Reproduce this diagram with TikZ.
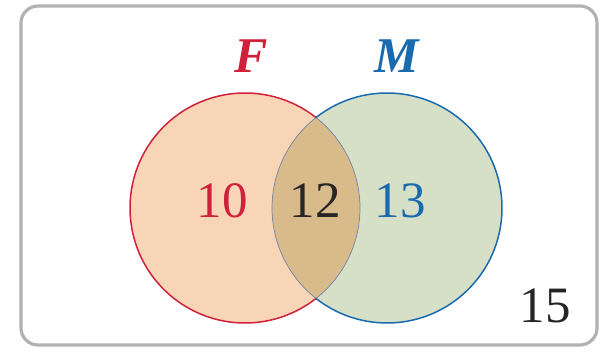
\documentclass[tikz,border=0pt]{standalone}
\usepackage{fontspec}
\setmainfont{Liberation Serif}
\definecolor{fpeach}{HTML}{F8D5B6}
\definecolor{mgreen}{HTML}{D5E0C6}
\definecolor{fmboth}{HTML}{D8BA8B}
\definecolor{fred}{HTML}{D0213B}
\definecolor{mblue}{HTML}{1A6AB0}
\definecolor{lensedge}{HTML}{7385A8}
\definecolor{frame}{HTML}{B2B2B2}
\tikzset{
  setlabel/.style={anchor=base, inner sep=0pt, font=\fontsize{50}{60}\selectfont\bfseries\itshape},
  count/.style={anchor=base, inner sep=0pt, font=\fontsize{51}{60}\selectfont},
}
\begin{document}
\begin{tikzpicture}[x=1pt,y=1pt]
  \useasboundingbox (0,0) rectangle (615,353);
  % universal set
  \draw[frame, line width=3.2pt, rounded corners=17pt] (21,8) rectangle (597,347);
  % circle centres
  \coordinate (cF) at (245,145);
  \coordinate (cM) at (387,145);
  \def\rad{115}
  % fills
  \fill[fpeach] (cF) circle (\rad);
  \fill[mgreen] (cM) circle (\rad);
  \begin{scope}
    \clip (cF) circle (\rad);
    \fill[fmboth] (cM) circle (\rad);
  \end{scope}
  % lens boundaries
  \draw[lensedge, line width=0.7pt] (cF) ++(-51.9:\rad) arc[start angle=-51.9, end angle=51.9, radius=\rad];
  \draw[lensedge, line width=0.7pt] (cM) ++(128.1:\rad) arc[start angle=128.1, end angle=231.9, radius=\rad];
  % outer arcs
  \draw[fred, line width=1.5pt] (cF) ++(51.9:\rad) arc[start angle=51.9, end angle=308.1, radius=\rad];
  \draw[mblue, line width=1.5pt] (cM) ++(128.1:\rad) arc[start angle=128.1, end angle=-128.1, radius=\rad];
  % labels
  \node[setlabel, text=fred] (lF) at (251,280) {F};
  \node[setlabel, text=mblue] (lM) at (397,280) {M};
  \node[count, text=fred] (nF) at (222,135) {10};
  \node[count, text=black!85] (nFM) at (315,135) {12};
  \node[count, text=mblue] (nM) at (400,135) {13};
  \node[count, text=black!85] (nU) at (545,30) {15};
\end{tikzpicture}
\end{document}
